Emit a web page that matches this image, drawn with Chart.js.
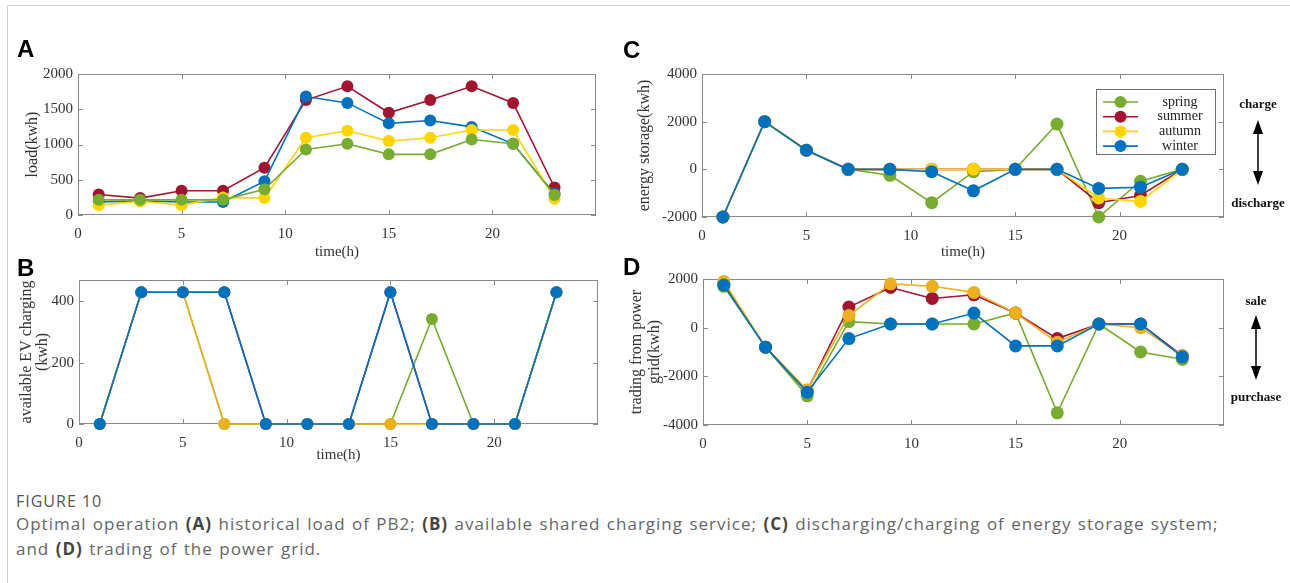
<!DOCTYPE html>
<html>
<head>
<meta charset="utf-8">
<script src="https://cdn.jsdelivr.net/npm/chart.js@4.4.1/dist/chart.umd.min.js"></script>
<style>
  body { margin: 0; background: #fff; }
  #page { position: relative; width: 1290px; height: 583px; overflow: hidden; background: #fff; }
  #frame { position: absolute; left: 7px; top: 5px; width: 1300px; height: 600px;
           border-top: 1px solid #d2d2d2; border-left: 1px solid #d2d2d2; }
  canvas { position: absolute; }
  .tag { position: absolute; font: bold 24px "Liberation Sans", Arial, sans-serif; color: #000; line-height: 24px; }
  #figno { position: absolute; left: 16px; top: 491px; font: 16px "Open Sans", sans-serif; letter-spacing: 1px;
           color: #555; line-height: 20px; }
  #caption { position: absolute; left: 16px; top: 511px; width: 1270px; font: 17px "Open Sans", sans-serif;
             letter-spacing: 1px; word-spacing: 1px; color: #666; line-height: 25px; white-space: nowrap; }
  #caption b { color: #444; }
</style>
</head>
<body>
<div id="page">
  <div id="frame"></div>
  <canvas id="load" width="620" height="205" style="left:0;top:60px"></canvas>
  <canvas id="ev" width="620" height="200" style="left:0;top:265px"></canvas>
  <canvas id="storage" width="670" height="205" style="left:620px;top:60px"></canvas>
  <canvas id="grid" width="670" height="200" style="left:620px;top:265px"></canvas>
  <div class="tag" style="left:17px;top:37px">A</div>
  <div class="tag" style="left:17px;top:256px">B</div>
  <div class="tag" style="left:623px;top:38px">C</div>
  <div class="tag" style="left:623px;top:255px">D</div>
  <div id="figno">FIGURE 10</div>
  <div id="caption">Optimal operation <b>(A)</b> historical load of PB2; <b>(B)</b> available shared charging service; <b>(C)</b> discharging/charging of energy storage system;<br>and <b>(D)</b> trading of the power grid.</div>
</div>
<script>
const hours = [1, 3, 5, 7, 9, 11, 13, 15, 17, 19, 21, 23];
const seasons = ['spring', 'summer', 'autumn', 'winter'];
const timeTicks = [0, 5, 10, 15, 20];

// A: historical load (kWh)
const loadSpring = [215, 215, 215, 215, 365, 930, 1010, 860, 860, 1070, 1010, 285];
const loadSummer = [290, 240, 345, 345, 670, 1630, 1825, 1450, 1630, 1825, 1590, 390];
const loadAutumn = [140, 195, 140, 250, 240, 1095, 1195, 1050, 1095, 1205, 1205, 230];
const loadWinter = [185, 200, 185, 185, 480, 1680, 1590, 1300, 1340, 1250, 1010, 300];
const loadTicks = [0, 500, 1000, 1500, 2000];

// B: available EV charging (kWh)
const evSpring = [0, 430, 430, 0, 0, 0, 0, 0, 343, 0, 0, 430];
const evSummer = [0, 430, 430, 430, 0, 0, 0, 430, 0, 0, 0, 430];
const evAutumn = [0, 430, 430, 0, 0, 0, 0, 0, 0, 0, 0, 430];
const evWinter = [0, 430, 430, 430, 0, 0, 0, 430, 0, 0, 0, 430];
const evTicks = [0, 200, 400];

// C: energy storage (kWh), + charge / - discharge
const storSpring = [-2000, 2000, 800, 0, -250, -1400, -100, 0, 1900, -2000, -500, 0];
const storSummer = [-2000, 2000, 800, 0, 0, 0, 0, 0, 0, -1400, -1100, 0];
const storAutumn = [-2000, 2000, 800, 0, 0, 0, 0, 0, 0, -1200, -1350, 0];
const storWinter = [-2000, 2000, 800, 0, 0, -100, -900, 0, 0, -800, -750, 0];
const storTicks = [-2000, 0, 2000, 4000];

// D: trading with the power grid (kWh), + sale / - purchase
const gridSpring = [1700, -800, -2800, 250, 150, 150, 150, 600, -3500, 150, -1000, -1300];
const gridSummer = [1800, -800, -2600, 850, 1650, 1200, 1350, 600, -450, 150, 150, -1150];
const gridAutumn = [1900, -800, -2550, 500, 1800, 1700, 1450, 600, -600, 150, 0, -1150];
const gridWinter = [1750, -800, -2650, -450, 150, 150, 600, -750, -750, 150, 150, -1200];
const gridTicks = [-4000, -2000, 0, 2000];

const green = '#77ac30', red = '#a2142f', blue = '#0072bd', gold = '#ffd400', amber = '#edb120';
const ink = '#333';
const serif = '"Liberation Serif", "Times New Roman", serif';

// matlab-like axes: grey box with inward ticks on all four sides
const boxTicks = {
  id: 'boxTicks',
  beforeDatasetsDraw(chart) {
    const { ctx, chartArea: a, scales: { x, y } } = chart;
    ctx.save();
    ctx.strokeStyle = '#8a8a8a';
    ctx.lineWidth = 1;
    ctx.strokeRect(a.left + 0.5, a.top + 0.5, a.width - 1, a.height - 1);
    ctx.beginPath();
    x.ticks.forEach(t => {
      const px = Math.round(x.getPixelForValue(t.value)) + 0.5;
      ctx.moveTo(px, a.bottom); ctx.lineTo(px, a.bottom - 5);
      ctx.moveTo(px, a.top); ctx.lineTo(px, a.top + 5);
    });
    y.ticks.forEach(t => {
      const py = Math.round(y.getPixelForValue(t.value)) + 0.5;
      ctx.moveTo(a.left, py); ctx.lineTo(a.left + 5, py);
      ctx.moveTo(a.right, py); ctx.lineTo(a.right - 5, py);
    });
    ctx.stroke();
    ctx.restore();
  }
};

// boxed legend with line + marker samples
const seasonKey = {
  id: 'seasonKey',
  afterDatasetsDraw(chart, args, o) {
    if (!o.show) return;
    const { ctx, chartArea: a } = chart;
    const w = 119, h = 65;
    const left = a.right - 9 - w, top = a.top + 15;
    ctx.save();
    ctx.fillStyle = '#fff';
    ctx.fillRect(left, top, w, h);
    ctx.strokeStyle = '#6e6e6e';
    ctx.lineWidth = 1;
    ctx.strokeRect(left + 0.5, top + 0.5, w, h);
    ctx.font = '14px ' + serif;
    ctx.textAlign = 'center';
    ctx.textBaseline = 'middle';
    chart.data.datasets.forEach((ds, i) => {
      const yy = top + 13 + i * 14.7;
      ctx.strokeStyle = ds.borderColor;
      ctx.lineWidth = 1.6;
      ctx.beginPath(); ctx.moveTo(left + 7, yy); ctx.lineTo(left + 42, yy); ctx.stroke();
      ctx.fillStyle = ds.borderColor;
      ctx.beginPath(); ctx.arc(left + 24.5, yy, 6, 0, Math.PI * 2); ctx.fill();
      ctx.fillStyle = '#222';
      ctx.fillText(ds.label, left + 84, yy);
    });
    ctx.restore();
  }
};

// two-headed arrow with a word at each end, right of the plot
const sideArrow = {
  id: 'sideArrow',
  afterDraw(chart, args, o) {
    if (!o.text) return;
    const { ctx, chartArea: a } = chart;
    const x = a.right + o.dx;
    const y1 = a.top + o.rows[1], y2 = a.top + o.rows[2];
    ctx.save();
    ctx.font = 'bold 13px ' + serif;
    ctx.fillStyle = '#111';
    ctx.textAlign = 'center';
    ctx.textBaseline = 'middle';
    ctx.fillText(o.text[0], x, a.top + o.rows[0]);
    ctx.fillText(o.text[1], x, a.top + o.rows[3]);
    ctx.strokeStyle = '#000';
    ctx.fillStyle = '#000';
    ctx.lineWidth = 1.5;
    ctx.beginPath(); ctx.moveTo(x, y1 + 10); ctx.lineTo(x, y2 - 10); ctx.stroke();
    ctx.beginPath(); ctx.moveTo(x, y1); ctx.lineTo(x - 5, y1 + 14); ctx.lineTo(x + 5, y1 + 14); ctx.closePath(); ctx.fill();
    ctx.beginPath(); ctx.moveTo(x, y2); ctx.lineTo(x - 5, y2 - 14); ctx.lineTo(x + 5, y2 - 14); ctx.closePath(); ctx.fill();
    ctx.restore();
  }
};

const fixTicks = values => axis => { axis.ticks = values.map(value => ({ value })); };
const plain = v => String(v);

function panel(id, cfg) {
  const datasets = cfg.series.map((values, i) => ({
    label: seasons[i],
    data: values.map((v, k) => ({ x: hours[k], y: v })),
    borderColor: cfg.colors[i],
    backgroundColor: cfg.colors[i],
    pointBackgroundColor: cfg.colors[i],
    pointBorderColor: cfg.colors[i],
    borderWidth: 1.6,
    pointRadius: cfg.radius,
    pointBorderWidth: 0,
    clip: false,
    order: cfg.order[i]
  }));
  return new Chart(document.getElementById(id), {
    type: 'line',
    data: { datasets },
    options: {
      responsive: false,
      animation: false,
      events: [],
      layout: { padding: cfg.padding },
      plugins: {
        legend: { display: false },
        tooltip: { enabled: false },
        seasonKey: { show: !!cfg.key },
        sideArrow: cfg.arrow || {}
      },
      scales: {
        x: {
          type: 'linear', min: 0, max: 25,
          afterBuildTicks: fixTicks(timeTicks),
          afterFit: s => { s.height = cfg.xHeight; },
          grid: { display: false, drawTicks: false },
          border: { display: false },
          ticks: { color: ink, font: { family: serif, size: 15 }, padding: 10, maxRotation: 0, callback: plain },
          title: cfg.xTitle
            ? { display: true, text: 'time(h)', color: ink, font: { family: serif, size: 15 }, padding: { top: 0, bottom: cfg.xTitlePad } }
            : { display: false }
        },
        y: {
          min: cfg.yMin, max: cfg.yMax,
          afterBuildTicks: fixTicks(cfg.yTicks),
          afterFit: s => { s.width = cfg.yWidth; },
          grid: { display: false, drawTicks: false },
          border: { display: false },
          ticks: { color: ink, font: { family: serif, size: 15 }, padding: 5, callback: plain },
          title: {
            display: true, text: cfg.yTitle, color: ink,
            font: { family: serif, size: 16, lineHeight: cfg.yTitleLh },
            padding: { top: cfg.yTitlePad, bottom: 0 }
          }
        }
      }
    },
    plugins: [boxTicks, seasonKey, sideArrow]
  });
}

panel('load', {
  series: [loadSpring, loadSummer, loadAutumn, loadWinter],
  colors: [green, red, gold, blue],
  order: [0, 3, 1, 2],
  radius: 6,
  padding: { top: 10, right: 24, left: 0, bottom: 0 },
  xHeight: 50, xTitle: true, xTitlePad: 4,
  yMin: 0, yMax: 2000, yTicks: loadTicks, yWidth: 78,
  yTitle: 'load(kwh)', yTitleLh: 1.2, yTitlePad: 23
});

panel('ev', {
  series: [evSpring, evSummer, evAutumn, evWinter],
  colors: [green, red, amber, blue],
  order: [2, 3, 1, 0],
  radius: 6,
  padding: { top: 15, right: 22, left: 0, bottom: 0 },
  xHeight: 41, xTitle: true, xTitlePad: 1,
  yMin: 0, yMax: 470, yTicks: evTicks, yWidth: 79,
  yTitle: ['available EV charging', '(kwh)'], yTitleLh: 1, yTitlePad: 19
});

panel('storage', {
  series: [storSpring, storSummer, storAutumn, storWinter],
  colors: [green, red, gold, blue],
  order: [3, 2, 1, 0],
  radius: 6.5,
  padding: { top: 12, right: 66, left: 0, bottom: 0 },
  xHeight: 48, xTitle: true, xTitlePad: 4,
  yMin: -2000, yMax: 4000, yTicks: storTicks, yWidth: 82,
  yTitle: 'energy storage(kwh)', yTitleLh: 1.2, yTitlePad: 15,
  key: true,
  arrow: { text: ['charge', 'discharge'], dx: 34, rows: [31, 46, 111, 130] }
});

panel('grid', {
  series: [gridSpring, gridSummer, gridAutumn, gridWinter],
  colors: [green, red, amber, blue],
  order: [3, 2, 1, 0],
  radius: 6.5,
  padding: { top: 14, right: 66, left: 0, bottom: 0 },
  xHeight: 40, xTitle: false,
  yMin: -4000, yMax: 2000, yTicks: gridTicks, yWidth: 83,
  yTitle: ['trading from power', 'grid(kwh)'], yTitleLh: 1.1, yTitlePad: 8,
  arrow: { text: ['sale', 'purchase'], dx: 32, rows: [23, 36, 101, 119] }
});
</script>
</body>
</html>
